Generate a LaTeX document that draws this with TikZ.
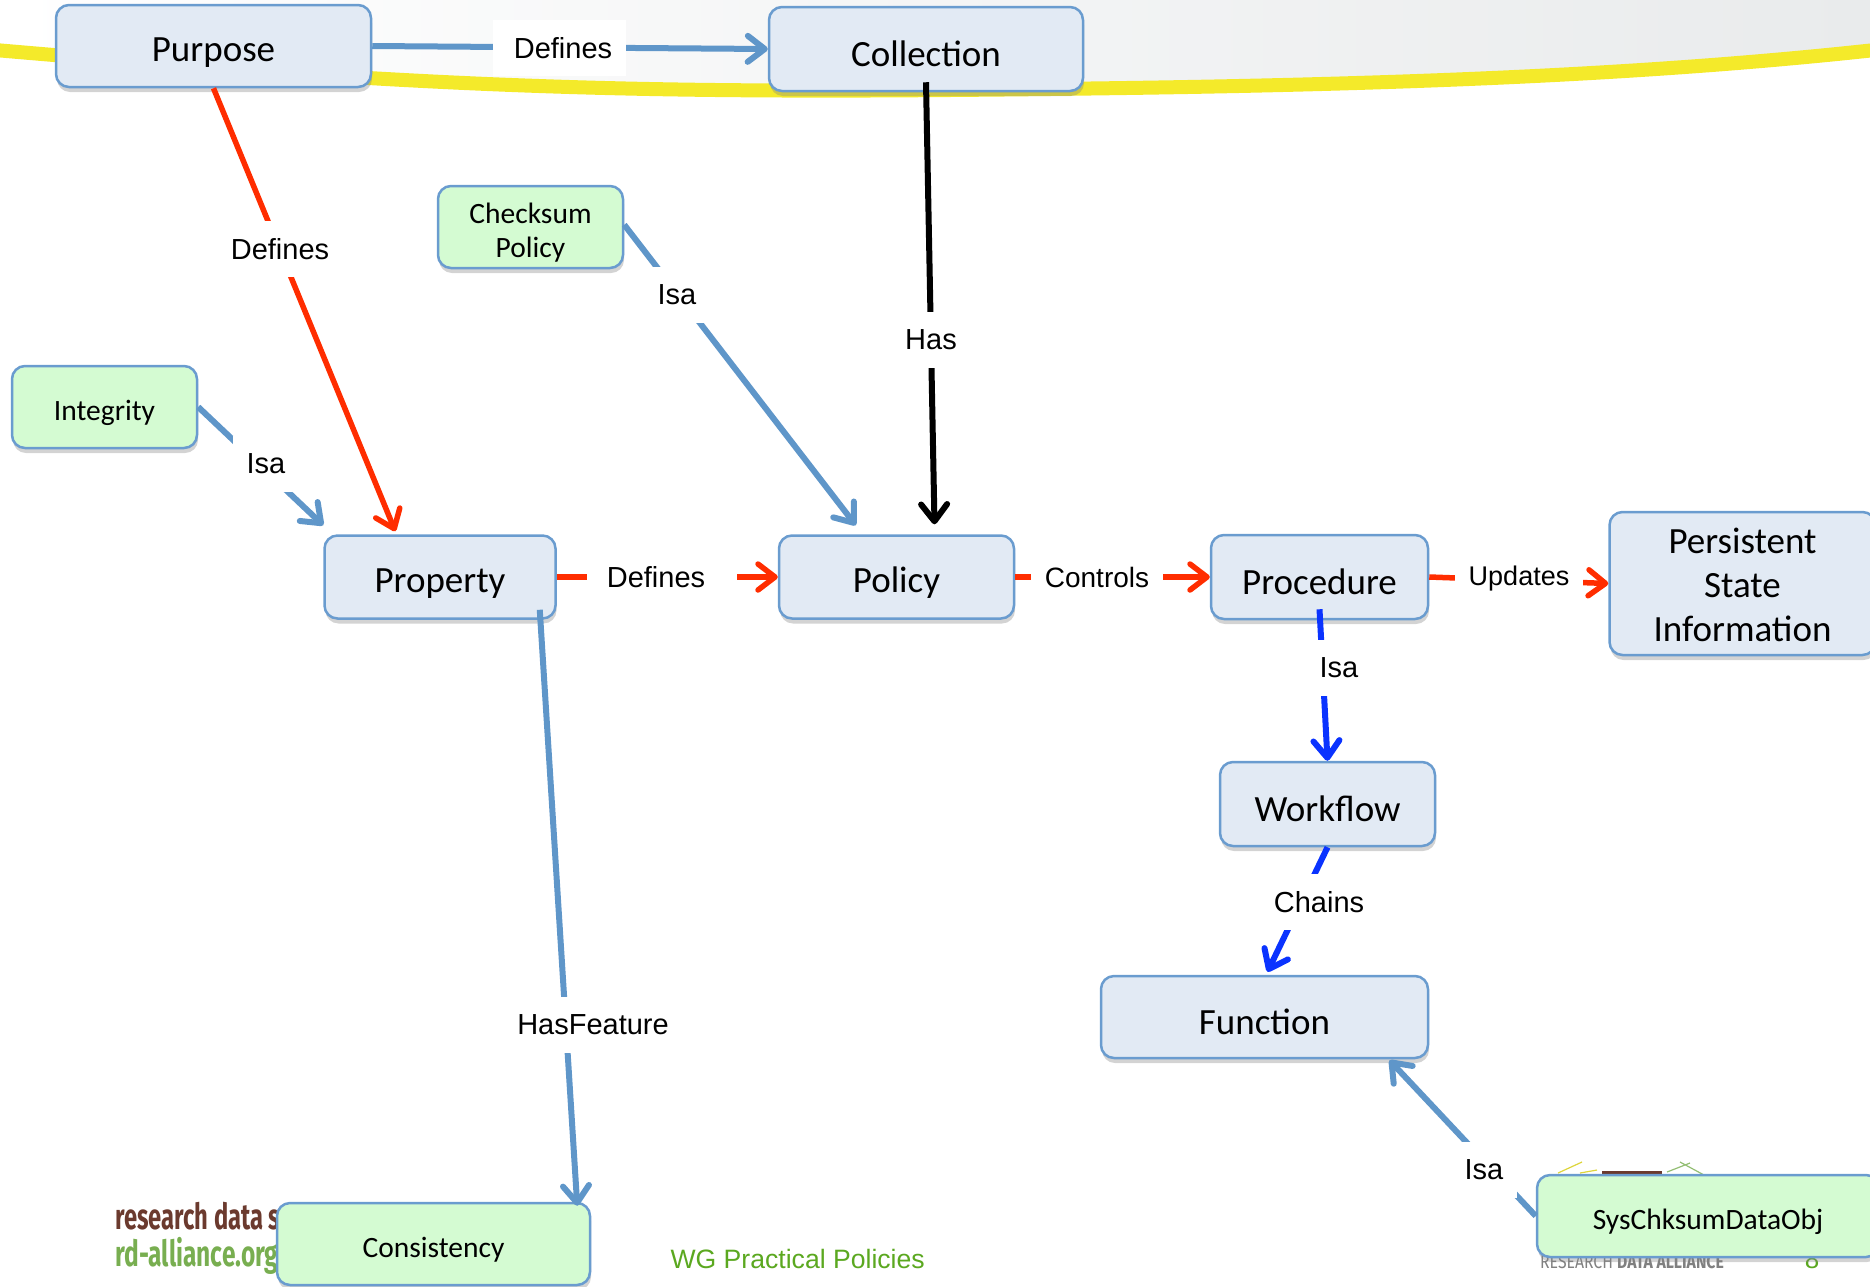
\documentclass[tikz,border=0pt]{standalone}
\usepackage{fontspec}
\setmainfont{Carlito}
\newfontfamily\arialfont{Liberation Sans}
\newfontfamily\logofont{Fira Sans}
\usetikzlibrary{arrows.meta,shadows}
\definecolor{lineblue}{HTML}{5F96C9}
\definecolor{boxedge}{HTML}{6A9CCF}
\definecolor{boxfill}{HTML}{E2EAF4}
\definecolor{greenfill}{HTML}{D4FBD2}
\definecolor{linered}{HTML}{FF2D00}
\definecolor{deepblue}{HTML}{0A33FF}
\definecolor{curveyellow}{HTML}{F4EA2A}
\definecolor{logobrown}{HTML}{6B3A2E}
\definecolor{logogreen}{HTML}{78AE50}
\definecolor{titlegreen}{HTML}{5BA820}
\definecolor{topgrey}{HTML}{E9EBEC}
\newcommand{\lowerline}[2]{\raisebox{-#1}[\height][\depth]{#2}}
\tikzset{
	>={Straight Barb[length=17pt,width=26pt,round]},
	bigbox/.style={draw=boxedge,line width=2.5pt,fill=boxfill,rounded corners=13pt,align=center,font=\fontsize{37}{44}\selectfont,inner sep=0pt,execute at begin node={\rule[-.02em]{0pt}{1em}},drop shadow={shadow xshift=1pt,shadow yshift=-5pt,opacity=.35}},
	smallbox/.style={bigbox,fill=greenfill,font=\fontsize{29.5}{34}\selectfont,execute at begin node={\rule[-.02em]{0pt}{1.1em}}},
	edgelabel/.style={fill=white,font=\arialfont\fontsize{29}{34}\selectfont,inner xsep=14pt,inner ysep=0pt,minimum height=56pt},
	blueline/.style={draw=lineblue,line width=6pt},
	redline/.style={draw=linered,line width=5.5pt},
	deepline/.style={draw=deepblue,line width=6pt},
	blackline/.style={draw=black,line width=6pt}
}
\begin{document}
\begin{tikzpicture}[x=1pt,y=-1pt]
	\useasboundingbox (0,0) rectangle (1870,1286);
	\shade[left color=white,middle color=gray!7,right color=topgrey] (0,0) -- (0,50) .. controls (400,85) and (600,93) .. (950,90) .. controls (1300,87) and (1600,80) .. (1870,50) -- (1870,0) -- cycle;
	\draw[curveyellow,line width=14pt] (-5,50) .. controls (400,85) and (600,93) .. (950,90) .. controls (1300,87) and (1600,80) .. (1875,50);
	\node[logobrown,font=\logofont\bfseries\fontsize{36}{40}\selectfont,xscale=.66,transform shape,anchor=base west] (sharetext) at (113,1229) {research data s};
	\node[logogreen,font=\logofont\bfseries\fontsize{36}{40}\selectfont,xscale=.68,transform shape,anchor=base west] (sitetext) at (113,1266) {rd-alliance.org};
	\node[titlegreen,font=\arialfont\fontsize{26.6}{32}\selectfont,anchor=base west] (wgtext) at (667,1268) {WG Practical Policies};
	\node[gray,font=\logofont\fontsize{19}{22}\selectfont,xscale=.83,transform shape,anchor=base west,inner sep=0pt] (rdatext) at (1540,1268) {RESEARCH \textbf{DATA ALLIANCE}};
	\node[titlegreen,font=\arialfont\fontsize{26}{30}\selectfont,anchor=base,inner sep=0pt] (pagenum) at (1812,1268) {8};
	\draw[curveyellow!80!gray,line width=1.2pt] (1558,1173) -- (1582,1162) (1580,1173) -- (1597,1170);
	\draw[logogreen!80,line width=1.2pt] (1667,1172) -- (1690,1163) (1680,1162) -- (1704,1175);
	\fill[logobrown] (1602,1171) rectangle (1662,1176);

	\node[bigbox,minimum width=315pt,minimum height=82pt] (purpose) at (213.5,46) {Purpose};
	\node[bigbox,minimum width=314pt,minimum height=84pt] (collection) at (926,49) {Collection};
	\node[smallbox,minimum width=185pt,minimum height=82pt] (checksum) at (530.5,227) {\lowerline{6pt}{Checksum}\\\lowerline{6pt}{Policy}};
	\node[smallbox,minimum width=185pt,minimum height=82pt] (integrity) at (104.5,407) {Integrity};
	\node[bigbox,minimum width=231pt,minimum height=83pt] (property) at (440,577) {Property};
	\node[bigbox,minimum width=235pt,minimum height=83pt] (policy) at (896.5,577) {Policy};
	\node[bigbox,minimum width=217pt,minimum height=84pt] (procedure) at (1319.5,577) {Procedure};
	\node[bigbox,minimum width=266pt,minimum height=143pt] (persistent) at (1742.5,583.5) {\lowerline{2pt}{Persistent}\\\lowerline{2pt}{State}\\\lowerline{2pt}{Information}};
	\node[bigbox,minimum width=215pt,minimum height=84pt] (workflow) at (1327.5,804) {Workflow};
	\node[bigbox,minimum width=327pt,minimum height=82pt] (function) at (1264.5,1017) {Function};
	\node[smallbox,minimum width=313pt,minimum height=82pt] (consistency) at (433.5,1244) {Consistency};
	\node[smallbox,minimum width=342pt,minimum height=82pt] (syschksum) at (1708,1216) {SysChksumDataObj};

	\draw[blueline,->] (purpose.east) -- (collection.west);
	\draw[redline,->] (purpose.south) -- ([xshift=72pt,yshift=3pt]property.north west);
	\draw[blueline,->] ([yshift=-40pt]checksum.north east) -- ([xshift=78pt,yshift=9pt]policy.north west);
	\draw[blueline,->] (integrity.east) -- ([yshift=9pt]property.north west);
	\draw[blackline,->] ([yshift=10pt]collection.south) -- ([xshift=38pt,yshift=10pt]policy.north);
	\draw[redline,->] (property.east) -- (policy.west);
	\draw[redline,->] (policy.east) -- (procedure.west);
	\draw[redline,->] (procedure.east) -- (persistent.west);
	\draw[deepline,->] ([yshift=11pt]procedure.south) -- (workflow.north);
	\draw[deepline,->] (workflow.south) -- ([xshift=3pt,yshift=3pt]function.north);
	\draw[blueline,->] ([xshift=-17pt,yshift=10pt]property.south east) -- ([xshift=-14pt,yshift=-4pt]consistency.north east);
	\draw[blueline,->] (syschksum.west) -- ([xshift=125pt,yshift=-1pt]function.south);

	\node[edgelabel,minimum width=129pt] (lbldefines) at (559.5,48) {\rule{7pt}{0pt}Defines};
	\node[edgelabel] (lblpurpose) at (280,249) {Defines};
	\node[edgelabel] (lblchecksum) at (677,295) {Isa};
	\node[edgelabel] (lblintegrity) at (266,464) {Isa};
	\node[edgelabel] (lblhas) at (931,340) {Has};
	\node[edgelabel,minimum width=150pt] (lblproperty) at (662,577) {Defines\rule{12pt}{0pt}};
	\node[edgelabel,font=\arialfont\fontsize{28}{34}\selectfont] (lblcontrols) at (1097,577) {Controls};
	\node[edgelabel,font=\arialfont\fontsize{27}{34}\selectfont] (lblupdates) at (1519,579) {Updates};
	\node[edgelabel] (lblprocedure) at (1339,668) {Isa};
	\node[edgelabel] (lblchains) at (1319,902) {Chains};
	\node[edgelabel] (lblfeature) at (593,1025) {HasFeature};
	\node[edgelabel] (lblsys) at (1484,1170) {Isa};
\end{tikzpicture}
\end{document}
